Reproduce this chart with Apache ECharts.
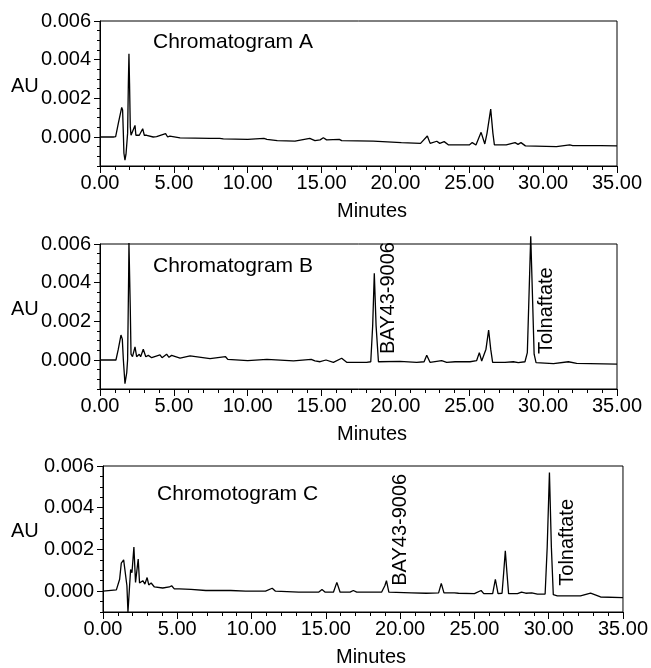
<!DOCTYPE html>
<html><head><meta charset="utf-8">
<script src="https://cdn.jsdelivr.net/npm/echarts@6/dist/echarts.min.js"></script>
<style>html,body{margin:0;padding:0;background:#fff}#c{width:651px;height:668px}</style>
</head><body><div id="c"></div>
<script>
// ---- Data (time in minutes, absorbance in AU) ----
const timeA = [0,0.9,1.06,1.24,1.47,1.53,1.58,1.62,1.69,1.76,1.83,1.87,1.92,1.96,2.0,2.05,2.1,2.2,2.37,2.43,2.55,2.66,2.89,3.0,3.16,3.6,3.83,4.44,4.58,4.73,5.42,7.45,8.1,8.2,8.35,10.0,11.1,11.3,12.0,13.2,14.2,14.55,14.9,15.12,15.34,16.2,16.36,18.5,20.4,21.7,22.16,22.35,22.8,23.0,23.3,23.6,25.0,25.2,25.45,25.8,26.05,26.2,26.45,26.6,26.7,27.5,28.1,28.3,28.5,28.8,30.9,31.8,32.0,33.9,35.0];
const auA   = [0,0,0.00002,0.0007,0.00153,0.0014,0.0002,-0.00084,-0.0012,-0.00089,-0.00089,0.0002,0.00277,0.00431,0.00277,0.00053,0.00009,0.00017,0.0006,0.00009,0.00017,0.00009,0.00043,0.00009,0.00009,0,0.00002,0.00017,0,0.00005,-0.00005,-0.00007,-0.00007,0,-0.0001,-0.00012,-0.00007,-0.00012,-0.00019,-0.00021,-0.00007,-0.00019,-0.00015,-0.00004,-0.00015,-0.00012,-0.00019,-0.00021,-0.00029,-0.00033,0.00005,-0.00033,-0.00022,-0.00033,-0.00024,-0.00041,-0.00041,-0.00029,-0.00041,0.00024,-0.00036,0.00019,0.00144,0.00019,-0.00041,-0.00041,-0.00029,-0.00038,-0.00029,-0.00046,-0.0005,-0.00041,-0.00045,-0.00045,-0.00046];

const timeB = [0,1.08,1.24,1.42,1.51,1.58,1.69,1.81,1.87,1.94,1.96,2.01,2.05,2.1,2.2,2.37,2.48,2.66,2.75,2.93,3.1,3.27,3.5,4.06,4.2,4.51,4.67,4.85,5.42,6.1,7.45,8.5,8.65,10.0,11.3,13.1,14.3,14.55,14.9,15.3,15.8,16.36,16.7,18.05,18.33,18.46,18.57,18.69,18.85,20.3,21.44,21.94,22.12,22.34,23.13,23.47,24.04,25.05,25.5,25.68,25.84,25.95,26.13,26.31,26.45,26.58,27.42,27.98,28.32,28.77,28.93,29.05,29.16,29.27,29.39,29.52,30.7,31.71,32.27,35.0];
const auB   = [0,0,0.00056,0.00129,0.00108,0.00003,-0.00122,-0.00066,0.00003,0.0044,0.00605,0.00605,0.00265,0.0003,0.00017,0.00068,0.00017,0.0003,0.00017,0.00056,0.00017,0.00024,0.00012,0.00026,0.00012,0.0003,0.00014,0.00024,0.0001,0.00021,0.00007,0.00017,0.00003,-0.00003,0.00003,-0.00005,0.00003,-0.00005,-0.00009,0,-0.00012,0.00009,-0.00012,-0.00012,-0.00009,0.00178,0.00448,0.00178,-0.00009,-0.00007,-0.00012,-0.00009,0.00025,-0.00012,-0.00003,-0.00012,-0.00009,-0.00009,-0.00003,0.00038,-0.00005,-0.00012,0.00056,0.00155,0.00056,-0.00012,-0.00012,-0.00009,-0.00014,-0.00009,0.00038,0.00352,0.0064,0.00352,0.0003,-0.00014,-0.00019,-0.00009,-0.00017,-0.00021];

const timeC = [0,0.9,1.03,1.12,1.23,1.39,1.52,1.61,1.68,1.75,1.79,1.86,1.95,2.08,2.19,2.28,2.37,2.46,2.68,2.82,2.97,3.08,3.24,3.46,4.02,4.47,4.62,4.8,5.13,5.92,6.92,8.6,9.6,10.94,11.39,11.61,13.17,14.51,14.74,14.96,15.51,15.74,15.96,16.63,16.85,17.08,18.75,18.97,19.08,19.24,20.76,21.76,22.59,22.77,22.95,23.66,23.77,23.93,25.0,25.45,25.63,26.23,26.41,26.59,26.86,26.97,27.08,27.19,27.3,27.9,28.17,28.46,28.86,29.24,29.76,29.9,30.05,30.18,30.31,30.58,32.14,32.82,33.49,35.0];
const auC   = [0,0.00006,0,0.00057,0.00134,0.0015,0.00142,0.00026,-0.001,-0.001,0.00026,0.00104,0.00088,0.00211,0.00042,0.00042,0.00154,0.00039,0.0005,0.00034,0.00065,0.0003,0.00039,0.0002,0.00015,0.0002,0.00026,0.00011,0.00011,0.00008,0.00003,0.00003,0,0,0.00014,0,-0.00005,-0.00005,0.00008,-0.00005,-0.00005,0.00042,-0.00005,-0.00005,0.00003,-0.00005,-0.00005,0.00026,0.0005,-0.00005,-0.00008,-0.0001,-0.00008,0.00037,-0.00008,-0.00008,-0.00002,-0.0001,-0.00012,0.00003,-0.00012,-0.00012,0.00057,-0.00012,-0.0001,0.00088,0.00193,0.00088,-0.00012,-0.00012,-0.00005,-0.0001,-0.00008,-0.00014,-0.00014,0.00212,0.00569,0.00212,-0.00017,-0.00023,-0.00023,-0.0001,-0.00028,-0.00031];

const panelTitles = ['Chromatogram A', 'Chromatogram B', 'Chromotogram C'];
const yMins = [-0.0015, -0.0015, -0.001];
const yMax = 0.006;
const xMax = 35;
const yMajorTicks = [0, 0.002, 0.004, 0.006];
// peak annotations: [panel, label, time, AU at text start]
const annotations = [
  [1, 'BAY43-9006', 19.5, 0.00031],
  [1, 'Tolnaftate', 30.2, 0.00031],
  [2, 'BAY43-9006', 20.0, 0.00026],
  [2, 'Tolnaftate', 31.25, 0.00026]
];

// ---- Layout ----
const FONT = '"Liberation Sans", Arial, sans-serif';
const grids = [
  {left: 100, top: 21, width: 517, height: 145},
  {left: 100, top: 244, width: 517, height: 145},
  {left: 103, top: 466, width: 523, height: 151}
];
const titlePos = [[153, 42], [153, 266], [157, 494]];
const auPos = [[11, 86], [11, 309], [11, 531]];
const namePad = [27, 27, 16];

const chart = echarts.init(document.getElementById('c'), null, {renderer: 'canvas'});
const zip = (t, v) => t.map((x, i) => [x, v[i]]);
const series = [zip(timeA, auA), zip(timeB, auB), zip(timeC, auC)];
const isMajor = v => Math.abs(v / 0.002 - Math.round(v / 0.002)) < 1e-6;
const textStyle = (t, size) => ({text: t, fill: '#000', font: size + 'px ' + FONT,
  textAlign: 'left', textVerticalAlign: 'middle', align: 'left', verticalAlign: 'middle'});

const option = {
  animation: false,
  backgroundColor: '#fff',
  grid: grids.map(g => Object.assign({show: true, borderColor: '#000', borderWidth: 1, backgroundColor: 'transparent'}, g)),
  xAxis: grids.map((g, i) => ({
    gridIndex: i, type: 'value', min: 0, max: xMax, interval: 5,
    axisLine: {onZero: false, lineStyle: {color: '#000', width: 1}},
    axisTick: {length: 7, lineStyle: {color: '#000'}},
    minorTick: {show: true, splitNumber: 5, length: 4, lineStyle: {color: '#000'}},
    splitLine: {show: false},
    axisLabel: {color: '#000', fontSize: 20, fontFamily: FONT, margin: 7, formatter: v => v.toFixed(2)},
    name: 'Minutes', nameLocation: 'middle', nameGap: 35,
    nameTextStyle: {color: '#000', fontSize: 20, fontFamily: FONT, padding: [0, 0, 0, namePad[i]]}
  })),
  yAxis: [],
  series: [],
  graphic: []
};
grids.forEach((g, i) => {
  option.yAxis.push({
    gridIndex: i, type: 'value', min: yMins[i], max: yMax, interval: 0.0005,
    axisLine: {show: true, onZero: false, lineStyle: {color: '#000', width: 1}},
    axisTick: {show: true, length: 3, lineStyle: {color: '#000'}},
    splitLine: {show: false},
    axisLabel: {color: '#000', fontSize: 20, fontFamily: FONT, margin: 9,
      formatter: v => isMajor(v) && v >= 0 ? v.toFixed(3) : ''}
  });
  option.yAxis.push({
    gridIndex: i, type: 'value', min: yMins[i], max: yMax, interval: 0.0005, position: 'left',
    axisLine: {show: false, onZero: false},
    axisTick: {show: true, length: 6, customValues: yMajorTicks, lineStyle: {color: '#000'}},
    axisLabel: {show: false},
    splitLine: {show: false}
  });
  option.series.push({
    type: 'line', xAxisIndex: i, yAxisIndex: 2 * i, data: series[i],
    showSymbol: false, symbol: 'none', clip: false,
    lineStyle: {color: '#000', width: 1.3}
  });
  option.graphic.push({type: 'text', x: titlePos[i][0], y: titlePos[i][1], style: textStyle(panelTitles[i], 21)});
  option.graphic.push({type: 'text', x: auPos[i][0], y: auPos[i][1], style: textStyle('AU', 20)});
});
chart.setOption(option);

const extra = annotations.map(a => {
  const p = chart.convertToPixel({seriesIndex: a[0]}, [a[2], a[3]]);
  return {type: 'text', x: p[0], y: p[1], rotation: Math.PI / 2, style: textStyle(a[1], 20)};
});
chart.setOption({graphic: option.graphic.concat(extra)});
</script>
</body></html>
